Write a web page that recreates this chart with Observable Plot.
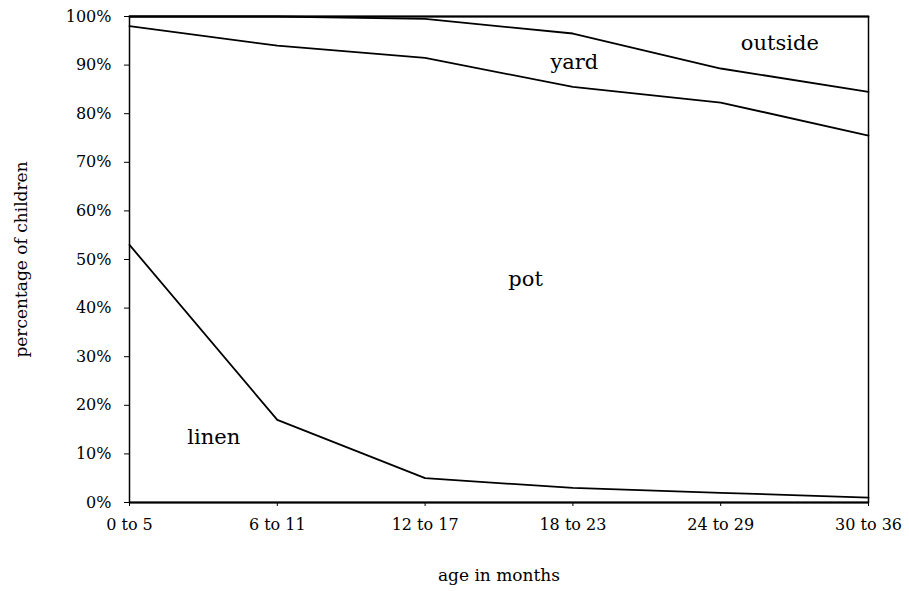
<!DOCTYPE html>
<html>
<head>
<meta charset="utf-8">
<script src="https://cdn.jsdelivr.net/npm/d3@7"></script>
<script src="https://cdn.jsdelivr.net/npm/@observablehq/plot@0.6"></script>
<style>
  html, body { margin: 0; padding: 0; background: #fff; }
  #chart svg { font-family: "DejaVu Serif", "Liberation Serif", serif; }
  #chart svg g[aria-label="x-axis label"], #chart svg g[aria-label="y-axis label"] { font-size: 17px !important; }
</style>
</head>
<body>
<div id="chart"></div>
<script>
const ages = ["0 to 5", "6 to 11", "12 to 17", "18 to 23", "24 to 29", "30 to 36"];
const seriesNames = ["linen", "pot", "yard", "outside"];
const linen   = [53, 17, 5, 3, 2, 1];
const pot     = [45, 77, 86.5, 82.5, 80.3, 74.5];
const yard    = [2, 6, 8, 11, 7, 9];
const outside = [0, 0, 0.5, 3.5, 10.7, 15.5];
const yTicks = [0, 10, 20, 30, 40, 50, 60, 70, 80, 90, 100];

// Area labels (name, x in age-index units, y in percent)
const labelNames = ["outside", "yard", "pot", "linen"];
const labelX = [4.40, 3.01, 2.68, 0.57];
const labelY = [94.4, 90.5, 46, 13.4];

const values = {linen, pot, yard, outside};
const rows = [];
seriesNames.forEach(name => {
  values[name].forEach((v, i) => rows.push({x: i, series: name, value: v}));
});
const labels = labelNames.map((t, i) => ({text: t, x: labelX[i], y: labelY[i]}));

const chart = Plot.plot({
  width: 909,
  height: 591,
  marginLeft: 129,
  marginRight: 41,
  marginTop: 16,
  marginBottom: 89,
  style: {fontFamily: '"DejaVu Serif", "Liberation Serif", serif', color: "#000", background: "#fff"},
  x: {type: "linear", domain: [0, ages.length - 1]},
  y: {domain: [0, 100]},
  marks: [
    Plot.axisX({
      ticks: d3.range(ages.length),
      tickFormat: i => ages[i],
      tickSize: 4,
      tickPadding: 12,
      fontSize: 16,
      label: "age in months",
      labelAnchor: "center",
      labelOffset: 78,
      labelArrow: "none"
    }),
    Plot.axisY({
      ticks: yTicks,
      tickFormat: d => d + "%",
      tickSize: 5,
      tickPadding: 13,
      fontSize: 16,
      label: "percentage of children",
      labelAnchor: "center",
      labelOffset: 115,
      labelArrow: "none"
    }),
    Plot.lineY(rows, Plot.stackY2({x: "x", y: "value", z: "series", order: seriesNames, stroke: "#000", strokeWidth: 1.8})),
    Plot.ruleY([0], {stroke: "#000", strokeWidth: 1.8}),
    Plot.frame({stroke: "#000", strokeWidth: 1.5}),
    Plot.text(labels, {x: "x", y: "y", text: "text", fontSize: 21, fill: "#000"})
  ]
});
document.getElementById("chart").appendChild(chart);
</script>
</body>
</html>
